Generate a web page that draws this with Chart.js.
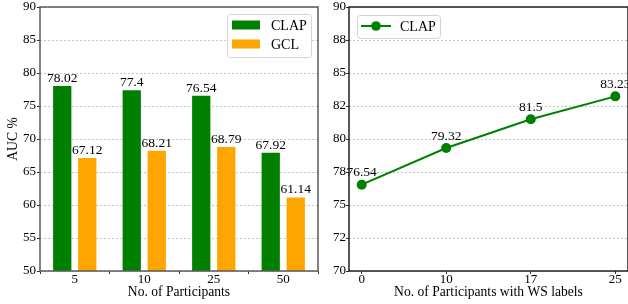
<!DOCTYPE html>
<html>
<head>
<meta charset="utf-8">
<script src="https://cdn.jsdelivr.net/npm/chart.js@4.4.1/dist/chart.umd.min.js"></script>
<style>
  body { margin: 0; background: #fff; }
  #wrap { position: relative; width: 628px; height: 304px; }
  canvas { position: absolute; top: 0; }
  #left { left: 0; }
  #right { left: 320px; }
</style>
</head>
<body>
<div id="wrap">
  <canvas id="left" width="320" height="304"></canvas>
  <canvas id="right" width="308" height="304"></canvas>
</div>
<script>
// left panel: AUC by number of participants
const participants = ["5", "10", "25", "50"];
const clapAuc = [78.02, 77.4, 76.54, 67.92];
const gclAuc = [67.12, 68.21, 68.79, 61.14];

// right panel: AUC by participants with WS labels
const wsLabels = ["0", "10", "17", "25"];
const clapWs = [76.54, 79.32, 81.5, 83.23];

const GREEN = "#008000";
const ORANGE = "#ffa500";
const FONT = "'Liberation Serif', 'Times New Roman', serif";

Chart.defaults.font.family = FONT;
Chart.defaults.font.size = 13;
Chart.defaults.color = "#000";

// matplotlib rounds half to even when formatting the tick labels
function roundHalfEven(v) {
    const f = Math.floor(v);
    if (Math.abs(v - f - 0.5) < 1e-9) return f % 2 === 0 ? f : f + 1;
    return Math.round(v);
}

function gridOpts(extra) {
    return Object.assign({
        color: "#b8b8b8",
        lineWidth: 0.8,
        tickColor: "#333",
        tickLength: 3,
        tickWidth: 1,
        tickBorderDash: [],
    }, extra);
}

// keep the plot box fixed: no extra room for the outer tick labels
function fixX(s) {
    s.height = 33;
    s.paddingLeft = 0;
    s.paddingRight = 0;
}
function fixY(w) {
    return s => {
        s.width = w;
        s.paddingTop = 0;
        s.paddingBottom = 0;
    };
}

// frame round the plot area, like the matplotlib spines
const framePlugin = {
    id: "frame",
    afterDraw(chart, args, opts) {
        const a = chart.chartArea, ctx = chart.ctx;
        ctx.save();
        ctx.strokeStyle = opts.color || "#555";
        ctx.lineWidth = 1.5;
        ctx.strokeRect(a.left, a.top, a.right - a.left, a.bottom - a.top);
        ctx.restore();
    }
};

// value text above every bar / point
const valuePlugin = {
    id: "values",
    afterDatasetsDraw(chart, args, opts) {
        const ctx = chart.ctx;
        ctx.save();
        ctx.font = "13.5px " + FONT;
        ctx.fillStyle = "#000";
        ctx.textAlign = "center";
        ctx.textBaseline = "bottom";
        chart.data.datasets.forEach((ds, i) => {
            const meta = chart.getDatasetMeta(i);
            meta.data.forEach((el, j) => {
                const v = ds.rawValues[j];
                ctx.fillText(String(v), el.x, el.y - opts.gap);
            });
        });
        ctx.restore();
    }
};

// legend drawn inside the plot area
const boxLegend = {
    id: "boxLegend",
    afterDraw(chart, args, opts) {
        const ctx = chart.ctx;
        const b = opts.box;
        ctx.save();
        ctx.fillStyle = "rgba(255,255,255,0.85)";
        ctx.strokeStyle = "#d4d4d4";
        ctx.lineWidth = 1;
        ctx.beginPath();
        ctx.roundRect(b[0] + 0.5, b[1] + 0.5, b[2], b[3], 3);
        ctx.fill();
        ctx.stroke();
        ctx.font = "14px " + FONT;
        ctx.textBaseline = "middle";
        ctx.fillStyle = "#000";
        chart.data.datasets.forEach((ds, i) => {
            const y = opts.firstY + i * opts.rowH;
            if (opts.kind === "bar") {
                ctx.fillStyle = ds.backgroundColor;
                ctx.fillRect(opts.markX, y - 4.5, 28, 9);
            } else {
                ctx.strokeStyle = ds.borderColor;
                ctx.lineWidth = 2;
                ctx.beginPath();
                ctx.moveTo(opts.markX, y);
                ctx.lineTo(opts.markX + 30, y);
                ctx.stroke();
                ctx.fillStyle = ds.borderColor;
                ctx.beginPath();
                ctx.arc(opts.markX + 15, y, 4.8, 0, Math.PI * 2);
                ctx.fill();
            }
            ctx.fillStyle = "#000";
            ctx.fillText(ds.label, opts.textX, y + 1);
        });
        ctx.restore();
    }
};

new Chart(document.getElementById("left"), {
    type: "bar",
    data: {
        labels: participants,
        datasets: [
            { label: "CLAP", data: clapAuc, rawValues: clapAuc, backgroundColor: GREEN },
            { label: "GCL", data: gclAuc, rawValues: gclAuc, backgroundColor: ORANGE },
        ]
    },
    options: {
        responsive: false,
        animation: false,
        layout: { autoPadding: false, padding: { top: 7, right: 2, left: 0, bottom: 0 } },
        datasets: { bar: { categoryPercentage: 0.72, barPercentage: 0.73 } },
        scales: {
            x: {
                grid: gridOpts({ drawOnChartArea: false }),
                border: { display: false },
                ticks: { padding: -2, maxRotation: 0, font: { size: 13 } },
                title: { display: true, text: "No. of Participants", font: { size: 13.6 }, padding: { top: 0, bottom: 3 } },
                afterFit: fixX
            },
            y: {
                min: 50, max: 90,
                grid: gridOpts({}),
                border: { display: false, dash: [2, 2] },
                ticks: { stepSize: 5, padding: 1, font: { size: 13 } },
                title: { display: true, text: "AUC %", font: { size: 13.6 }, padding: { top: 5, bottom: 0 } },
                afterFit: fixY(40)
            }
        },
        plugins: {
            legend: { display: false },
            tooltip: { enabled: false },
            frame: { color: "#5a5a5a" },
            values: { gap: 1 },
            boxLegend: { kind: "bar", box: [227, 14, 84, 43], firstY: 25, rowH: 19, markX: 232, textX: 271 }
        }
    },
    plugins: [framePlugin, valuePlugin, boxLegend]
});

new Chart(document.getElementById("right"), {
    type: "line",
    data: {
        datasets: [{
            label: "CLAP",
            data: clapWs.map((v, i) => ({ x: i, y: v })),
            rawValues: clapWs,
            borderColor: GREEN,
            backgroundColor: GREEN,
            borderWidth: 2,
            pointRadius: 5,
            pointBackgroundColor: GREEN,
            pointBorderWidth: 0,
            tension: 0,
            clip: false,
        }]
    },
    options: {
        responsive: false,
        animation: false,
        layout: { autoPadding: false, padding: { top: 7, right: 0, left: 0, bottom: 0 } },
        scales: {
            x: {
                type: "linear",
                min: -0.15, max: 3.15,
                afterBuildTicks(s) { s.ticks = wsLabels.map((_, i) => ({ value: i })); },
                grid: gridOpts({ drawOnChartArea: false }),
                border: { display: false },
                ticks: { padding: -2, maxRotation: 0, callback: v => wsLabels[v], font: { size: 13 } },
                title: { display: true, text: "No. of Participants with WS labels", font: { size: 13.6 }, padding: { top: 0, bottom: 3 } },
                afterFit: fixX
            },
            y: {
                min: 70, max: 90,
                grid: gridOpts({}),
                border: { display: false, dash: [2, 2] },
                ticks: { stepSize: 2.5, padding: 0, callback: v => String(roundHalfEven(v)), font: { size: 13 } },
                afterFit: fixY(29)
            }
        },
        plugins: {
            legend: { display: false },
            tooltip: { enabled: false },
            frame: { color: "#222" },
            values: { gap: 5 },
            boxLegend: { kind: "line", box: [37, 15, 83, 23], firstY: 26, rowH: 19, markX: 41, textX: 80 }
        }
    },
    plugins: [framePlugin, valuePlugin, boxLegend]
});
</script>
</body>
</html>
